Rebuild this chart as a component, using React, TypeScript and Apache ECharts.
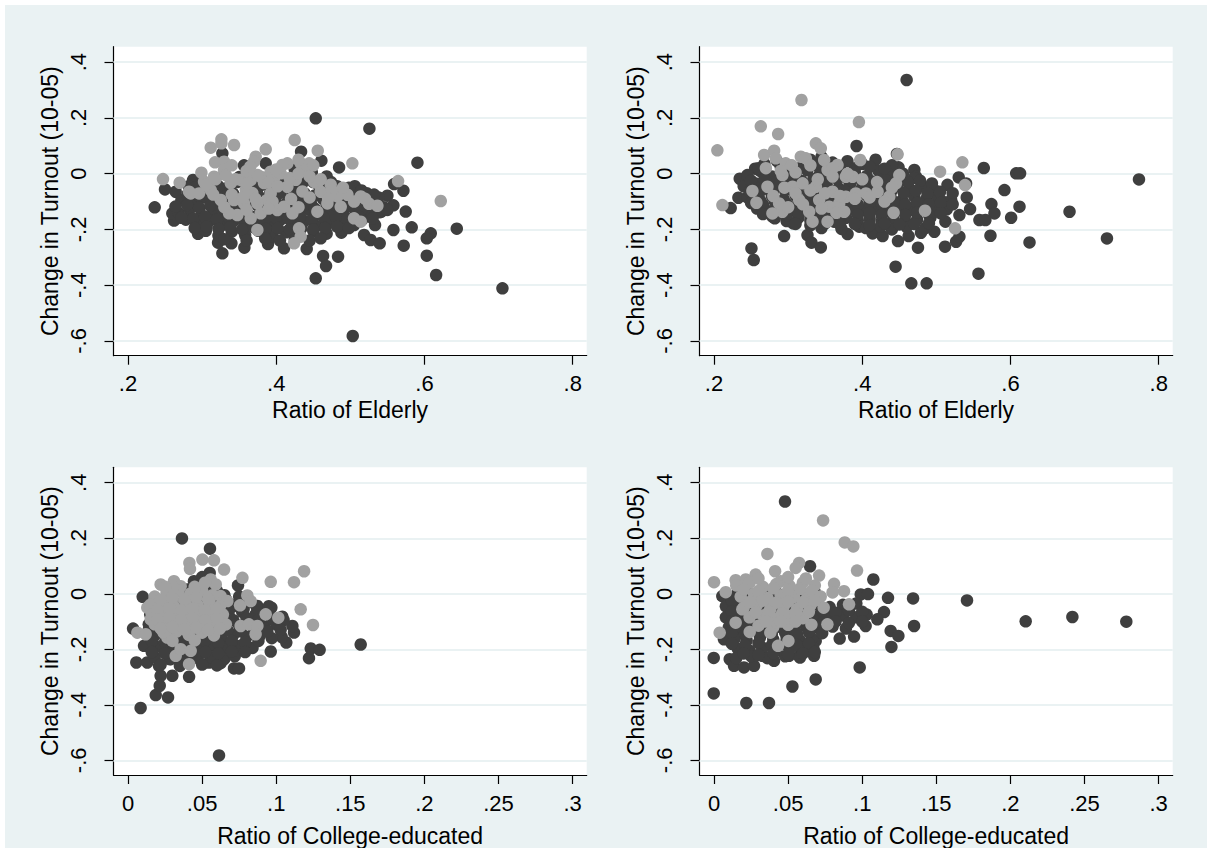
import React, { useEffect, useRef } from 'react';
import * as echarts from 'echarts';

// ---------- tick values and titles ----------
const elderlyTicks = [0.2, 0.4, 0.6, 0.8];
const collegeTicks = [0, 0.05, 0.1, 0.15, 0.2, 0.25, 0.3];
const turnoutTicks = [-0.6, -0.4, -0.2, 0, 0.2, 0.4];
const elderlyTitle = 'Ratio of Elderly';
const collegeTitle = 'Ratio of College-educated';
const turnoutTitle = 'Change in Turnout (10-05)';

// ---------- panel 1: elderly vs turnout (left column) ----------
const p1Dark: number[][] = [
  [0.4533, 0.1986], [0.5257, 0.1616], [0.5905, 0.0396], [0.4848, 0.0226], [0.4335, 0.079], [0.4609, 0.0468],
  [0.3273, 0.0731], [0.236, -0.1207], [0.2621, -0.168], [0.2945, -0.2157], [0.3273, -0.2857], [0.3215, -0.2474],
  [0.3395, -0.2498], [0.357, -0.2653], [0.3889, -0.2522], [0.4105, -0.2677], [0.4411, -0.2701], [0.4632, -0.2952],
  [0.4834, -0.2976], [0.4672, -0.3311], [0.4533, -0.3754], [0.5032, -0.5822], [0.4879, -0.2115], [0.5185, -0.2199],
  [0.5275, -0.2379], [0.5396, -0.2498], [0.5333, -0.1841], [0.5419, -0.136], [0.5581, -0.2019], [0.572, -0.2581],
  [0.5828, -0.1924], [0.5747, -0.136], [0.5581, -0.1135], [0.55, -0.0788], [0.559, -0.0372], [0.5716, -0.0611],
  [0.6085, -0.2139], [0.6031, -0.2318], [0.6436, -0.1972], [0.6031, -0.294], [0.6157, -0.3634], [0.7052, -0.4112],
  [0.2499, -0.0563], [0.2643, -0.0647], [0.2598, -0.1424], [0.2877, -0.0226], [0.3565, 0.03], [0.3858, 0.0372],
  [0.505, -0.1841], [0.4996, -0.0525], [0.5239, -0.0946],
  [0.282, -0.045], [0.298, -0.062], [0.312, -0.038], [0.33, -0.055], [0.347, -0.03], [0.362, -0.06], [0.38, -0.04],
  [0.397, -0.058], [0.413, -0.025], [0.428, -0.05], [0.443, -0.015], [0.458, -0.045], [0.474, -0.03], [0.49, -0.06],
  [0.506, -0.045], [0.522, -0.07], [0.538, -0.085],
  [0.272, -0.095], [0.288, -0.105], [0.303, -0.085], [0.318, -0.11], [0.334, -0.092], [0.35, -0.105], [0.366, -0.088],
  [0.383, -0.11], [0.399, -0.09], [0.415, -0.102], [0.431, -0.085], [0.447, -0.108], [0.463, -0.09], [0.479, -0.105],
  [0.495, -0.095], [0.511, -0.11], [0.527, -0.1], [0.545, -0.12],
  [0.268, -0.14], [0.283, -0.128], [0.299, -0.148], [0.315, -0.132], [0.331, -0.15], [0.347, -0.135], [0.363, -0.148],
  [0.379, -0.13], [0.395, -0.145], [0.411, -0.135], [0.427, -0.15], [0.443, -0.128], [0.459, -0.145], [0.475, -0.135],
  [0.491, -0.15], [0.507, -0.13], [0.523, -0.145], [0.54, -0.138],
  [0.278, -0.165], [0.294, -0.182], [0.31, -0.168], [0.326, -0.185], [0.342, -0.17], [0.358, -0.188], [0.374, -0.172],
  [0.39, -0.185], [0.406, -0.165], [0.422, -0.18], [0.438, -0.17], [0.454, -0.188], [0.47, -0.175], [0.486, -0.168],
  [0.502, -0.18], [0.516, -0.165],
  [0.305, -0.205], [0.322, -0.222], [0.34, -0.208], [0.358, -0.22], [0.376, -0.205], [0.395, -0.225], [0.413, -0.21],
  [0.432, -0.222], [0.45, -0.205], [0.468, -0.215], [0.488, -0.2],
  [0.405, -0.005], [0.425, 0.015], [0.448, 0.005], [0.468, -0.01], [0.435, -0.035], [0.385, -0.015], [0.35, -0.012],
  [0.318, -0.015], [0.3, -0.025],
  [0.28, -0.075], [0.296, -0.08], [0.311, -0.07], [0.326, -0.078], [0.342, -0.072], [0.358, -0.082], [0.374, -0.07],
  [0.39, -0.078], [0.406, -0.068], [0.422, -0.08], [0.438, -0.07], [0.452, -0.078], [0.468, -0.065], [0.484, -0.08],
  [0.5, -0.07], [0.516, -0.085], [0.532, -0.075],
  [0.264, -0.118], [0.28, -0.112], [0.296, -0.122], [0.311, -0.115], [0.326, -0.125], [0.342, -0.118], [0.358, -0.122],
  [0.374, -0.112], [0.39, -0.125], [0.406, -0.118], [0.422, -0.12], [0.438, -0.112], [0.452, -0.125], [0.468, -0.115],
  [0.484, -0.122], [0.5, -0.118], [0.516, -0.125], [0.532, -0.12], [0.55, -0.13],
  [0.272, -0.158], [0.288, -0.162], [0.304, -0.155], [0.32, -0.165], [0.336, -0.158], [0.352, -0.162], [0.368, -0.155],
  [0.384, -0.165], [0.4, -0.158], [0.416, -0.16], [0.432, -0.155], [0.448, -0.165], [0.464, -0.158], [0.48, -0.155],
  [0.496, -0.162], [0.512, -0.155], [0.53, -0.16],
  [0.29, -0.195], [0.306, -0.19], [0.322, -0.198], [0.338, -0.192], [0.354, -0.2], [0.37, -0.192], [0.386, -0.198],
  [0.402, -0.195], [0.418, -0.2], [0.434, -0.195], [0.45, -0.2], [0.466, -0.195], [0.482, -0.19], [0.498, -0.195],
  [0.33, -0.235], [0.36, -0.24], [0.385, -0.232], [0.405, -0.24], [0.425, -0.235], [0.445, -0.24], [0.46, -0.232],
  [0.29, -0.05], [0.322, -0.045], [0.338, -0.04], [0.372, -0.048], [0.39, -0.045], [0.42, -0.04], [0.45, -0.03],
  [0.482, -0.045], [0.498, -0.05], [0.515, -0.06],
];
const p1Light: number[][] = [
  [0.2472, -0.0192], [0.2697, -0.0324], [0.3116, 0.0934], [0.326, 0.1232], [0.326, 0.1089], [0.3431, 0.1029],
  [0.3858, 0.0874], [0.4249, 0.1208], [0.456, 0.0826], [0.5027, 0.0372], [0.5644, -0.0264], [0.622, -0.098],
  [0.3723, 0.061], [0.37, 0.0432], [0.3174, 0.0408], [0.3296, 0.0432], [0.299, 0.0037], [0.2846, -0.0707],
  [0.3026, -0.0288], [0.3161, -0.0109], [0.3296, 0.0133], [0.3386, -0.0336], [0.3521, -0.0216], [0.3588, -0.0575],
  [0.3678, -0.0695], [0.3835, -0.0336], [0.397, -0.0157], [0.406, 0.0013], [0.415, 0.0372], [0.433, 0.0372],
  [0.4443, 0.0372], [0.4375, 0.0133], [0.4263, -0.0216], [0.4353, -0.0635], [0.4555, -0.0336], [0.4735, -0.0396],
  [0.4825, -0.0815], [0.496, -0.0755], [0.514, -0.0815], [0.5252, -0.1078], [0.5365, -0.115], [0.505, -0.1601],
  [0.514, -0.172], [0.4555, -0.1362], [0.4218, -0.1422], [0.4015, -0.1302], [0.4105, -0.1183], [0.388, -0.0943],
  [0.379, -0.1422], [0.3655, -0.1601], [0.3475, -0.1482], [0.3363, -0.1422], [0.3251, -0.0943], [0.3116, -0.0587],
  [0.3745, -0.2019], [0.4308, -0.196], [0.433, -0.2259], [0.424, -0.2498], [0.469, -0.1066], [0.487, -0.1186],
  [0.46, -0.0647], [0.3925, -0.0707], [0.3745, -0.1066], [0.3565, -0.1066], [0.343, -0.0946], [0.2958, -0.0707],
  [0.2823, -0.0647], [0.451, -0.0288], [0.415, -0.0468], [0.379, -0.0109], [0.3655, -0.0228], [0.4082, 0.0312],
  [0.3925, 0.0073],
  [0.305, -0.04], [0.318, -0.02], [0.332, -0.005], [0.345, -0.02], [0.36, -0.035], [0.375, -0.005], [0.39, -0.03],
  [0.402, -0.045], [0.418, -0.015], [0.43, 0.0], [0.445, -0.01], [0.46, -0.02], [0.475, -0.06], [0.49, -0.05],
  [0.505, -0.1], [0.52, -0.09], [0.34, -0.075], [0.355, -0.085], [0.372, -0.09], [0.395, -0.1], [0.42, -0.09],
  [0.445, -0.085], [0.47, -0.09], [0.43, -0.12], [0.39, -0.125], [0.36, -0.13], [0.33, -0.12], [0.315, -0.075],
  [0.36, 0.01], [0.4, 0.015], [0.34, 0.03], [0.365, 0.025], [0.43, 0.05], [0.45, 0.03],
];

// ---------- panel 2: elderly vs turnout (right column) ----------
const p2Dark: number[][] = [
  [0.4599, 0.3362], [0.3923, 0.0994], [0.564, 0.0204], [0.6077, 0.0013], [0.613, 0.0013], [0.7734, -0.0205],
  [0.6797, -0.1364], [0.7302, -0.2321], [0.6257, -0.2465], [0.5568, -0.3587], [0.4662, -0.3934], [0.4869, -0.3934],
  [0.445, -0.3336], [0.2505, -0.268], [0.2536, -0.3097], [0.2946, -0.2237], [0.2225, -0.1232], [0.2347, -0.018],
  [0.2329, -0.0862], [0.2554, 0.018], [0.5919, -0.0587], [0.6122, -0.1184], [0.6009, -0.1579], [0.5743, -0.1089],
  [0.5784, -0.1424], [0.573, -0.2225], [0.5581, -0.1662], [0.5662, -0.1662], [0.5302, -0.0133], [0.5401, -0.0348],
  [0.541, -0.085], [0.5455, -0.1268], [0.5311, -0.1483], [0.5122, -0.1722], [0.4973, -0.2082], [0.4793, -0.2117],
  [0.4752, -0.2655], [0.5117, -0.2619], [0.5266, -0.244], [0.5311, -0.2261], [0.4626, -0.2237], [0.4482, -0.2416],
  [0.4468, 0.0707], [0.449, 0.0228], [0.4703, 0.0133], [0.4725, -0.0108], [0.4995, -0.0623], [0.5086, -0.1005],
  [0.4995, -0.1184], [0.3261, -0.2201], [0.3315, -0.2475], [0.3441, -0.2643], [0.3802, -0.2165], [0.3959, -0.19],
  [0.414, -0.2141], [0.4275, -0.2237], [0.3068, -0.1782], [0.2788, -0.1542],
  [0.268, 0.035], [0.285, 0.045], [0.3, 0.03], [0.33, 0.05], [0.345, 0.06], [0.36, 0.04], [0.38, 0.045], [0.4, 0.035],
  [0.418, 0.05], [0.44, 0.03],
  [0.245, -0.005], [0.262, 0.01], [0.278, -0.01], [0.294, 0.005], [0.31, -0.008], [0.326, 0.012], [0.342, -0.005],
  [0.358, 0.008], [0.374, -0.01], [0.39, 0.005], [0.406, -0.008], [0.422, 0.01], [0.438, -0.005], [0.455, 0.0],
  [0.47, -0.015],
  [0.24, -0.045], [0.256, -0.035], [0.272, -0.05], [0.288, -0.04], [0.304, -0.055], [0.32, -0.038], [0.336, -0.05],
  [0.352, -0.04], [0.368, -0.052], [0.384, -0.035], [0.4, -0.048], [0.416, -0.038], [0.432, -0.05], [0.448, -0.04],
  [0.464, -0.055], [0.48, -0.045], [0.496, -0.06], [0.515, -0.04],
  [0.245, -0.085], [0.262, -0.095], [0.278, -0.08], [0.294, -0.092], [0.31, -0.078], [0.326, -0.09], [0.342, -0.082],
  [0.358, -0.095], [0.374, -0.08], [0.39, -0.09], [0.406, -0.078], [0.422, -0.092], [0.438, -0.082], [0.454, -0.095],
  [0.47, -0.08], [0.486, -0.092], [0.502, -0.085], [0.52, -0.095],
  [0.258, -0.125], [0.274, -0.135], [0.29, -0.12], [0.306, -0.132], [0.322, -0.118], [0.338, -0.13], [0.354, -0.122],
  [0.37, -0.135], [0.386, -0.12], [0.402, -0.13], [0.418, -0.125], [0.434, -0.135], [0.45, -0.12], [0.466, -0.13],
  [0.482, -0.125], [0.498, -0.135], [0.514, -0.128],
  [0.282, -0.16], [0.298, -0.17], [0.314, -0.158], [0.33, -0.168], [0.346, -0.16], [0.362, -0.172], [0.378, -0.158],
  [0.394, -0.168], [0.41, -0.162], [0.426, -0.172], [0.442, -0.16], [0.458, -0.17], [0.474, -0.165], [0.492, -0.158],
  [0.345, -0.195], [0.372, -0.198], [0.405, -0.195], [0.425, -0.19], [0.44, -0.2], [0.46, -0.192], [0.485, -0.195],
  [0.25, -0.025], [0.268, -0.02], [0.285, -0.028], [0.302, -0.018], [0.318, -0.025], [0.334, -0.02], [0.35, -0.028],
  [0.366, -0.018], [0.382, -0.025], [0.398, -0.02], [0.414, -0.028], [0.43, -0.02], [0.446, -0.025], [0.462, -0.03],
  [0.478, -0.025], [0.494, -0.035],
  [0.248, -0.065], [0.264, -0.06], [0.28, -0.068], [0.296, -0.06], [0.312, -0.065], [0.328, -0.07], [0.344, -0.062],
  [0.36, -0.068], [0.376, -0.06], [0.392, -0.068], [0.408, -0.062], [0.424, -0.07], [0.44, -0.06], [0.456, -0.068],
  [0.472, -0.062], [0.488, -0.07], [0.505, -0.065], [0.522, -0.07],
  [0.25, -0.105], [0.266, -0.11], [0.282, -0.1], [0.298, -0.108], [0.314, -0.1], [0.33, -0.11], [0.346, -0.102],
  [0.362, -0.108], [0.378, -0.1], [0.394, -0.11], [0.41, -0.102], [0.426, -0.108], [0.442, -0.1], [0.458, -0.11],
  [0.474, -0.105], [0.49, -0.11], [0.506, -0.105], [0.522, -0.11],
  [0.266, -0.145], [0.282, -0.14], [0.298, -0.148], [0.314, -0.142], [0.33, -0.148], [0.346, -0.14], [0.362, -0.148],
  [0.378, -0.142], [0.394, -0.148], [0.41, -0.14], [0.426, -0.148], [0.442, -0.142], [0.458, -0.148], [0.474, -0.14],
  [0.49, -0.148], [0.506, -0.142],
  [0.31, -0.18], [0.33, -0.185], [0.35, -0.178], [0.37, -0.182], [0.39, -0.18], [0.41, -0.185], [0.43, -0.178],
  [0.45, -0.182], [0.47, -0.18], [0.49, -0.178],
  [0.26, 0.02], [0.29, 0.025], [0.315, 0.02], [0.34, 0.028], [0.37, 0.022], [0.39, 0.02], [0.41, 0.025], [0.43, 0.018],
];
const p2Light: number[][] = [
  [0.2045, 0.0838], [0.2113, -0.1125], [0.2631, 0.1699], [0.2865, 0.1424], [0.318, 0.2643], [0.3955, 0.1854],
  [0.3374, 0.1089], [0.3441, 0.091], [0.4477, 0.0695], [0.505, 0.0073], [0.5351, 0.0408], [0.5387, -0.0407],
  [0.4847, -0.1327], [0.5252, -0.196], [0.4423, -0.14], [0.2518, -0.062], [0.2572, -0.1041], [0.2676, 0.0671],
  [0.2811, 0.0826], [0.2833, 0.055], [0.2968, 0.0372], [0.3171, 0.061], [0.3239, 0.055], [0.3486, 0.0491],
  [0.3667, 0.0312], [0.3869, -0.0109], [0.3973, 0.0491], [0.45, -0.0048], [0.4455, -0.0347], [0.4365, -0.0826],
  [0.4207, -0.0647], [0.405, -0.0707], [0.3914, -0.0707], [0.3779, -0.0826], [0.3689, -0.1066], [0.3757, -0.1364],
  [0.3532, -0.1722], [0.3329, -0.1722], [0.3284, -0.1364], [0.3149, -0.0946], [0.2923, -0.1364], [0.2788, -0.1424],
  [0.2878, -0.1066], [0.2721, -0.0467], [0.2923, -0.0048], [0.3059, -0.0467], [0.3194, -0.0347], [0.3374, -0.0467],
  [0.3532, 0.0133], [0.3599, -0.0647], [0.3779, -0.0109], [0.3419, -0.0946], [0.3554, -0.1184],
  [0.27, 0.02], [0.29, 0.01], [0.305, 0.03], [0.33, 0.03], [0.36, 0.02], [0.38, 0.0], [0.4, -0.02], [0.42, -0.03],
  [0.44, -0.05], [0.43, -0.1], [0.41, -0.085], [0.39, -0.09], [0.37, -0.08], [0.35, -0.07], [0.33, -0.06],
  [0.31, -0.07], [0.295, -0.05], [0.28, -0.08], [0.3, -0.12], [0.32, -0.11], [0.345, -0.125], [0.365, -0.14],
  [0.34, -0.02], [0.36, -0.01], [0.31, 0.005],
];

// ---------- panel 3: college-educated vs turnout (left column) ----------
const p3Dark: number[][] = [
  [0.0364, 0.1995], [0.0553, 0.1624], [0.0551, 0.0752], [0.0742, 0.0298], [0.0099, -0.0109], [0.0034, -0.1255],
  [0.157, -0.1829], [0.0085, -0.4115], [0.0614, -0.5824], [0.0187, -0.3651], [0.027, -0.3735], [0.0214, -0.3313],
  [0.022, -0.2954], [0.0299, -0.2954], [0.0412, -0.299], [0.0056, -0.2475], [0.013, -0.2475], [0.0108, -0.1877],
  [0.0209, -0.2595], [0.0715, -0.269], [0.0749, -0.269], [0.1221, -0.232], [0.1233, -0.1972], [0.1293, -0.2021],
  [0.112, -0.1398], [0.1109, -0.116], [0.1068, -0.1757], [0.0963, -0.2081], [0.1037, -0.1557], [0.0967, -0.0502],
  [0.1041, -0.0825], [0.0873, -0.0442], [0.0546, -0.2475], [0.0625, -0.25], [0.0288, -0.2356], [0.0445, 0.0453],
  [0.035, 0.025], [0.045, 0.035], [0.052, 0.02], [0.06, 0.01], [0.05, 0.06], [0.04, 0.015],
  [0.02, -0.03], [0.03, -0.02], [0.04, -0.035], [0.05, -0.025], [0.058, -0.03], [0.066, -0.02], [0.074, -0.035],
  [0.082, -0.03],
  [0.015, -0.075], [0.024, -0.065], [0.033, -0.078], [0.042, -0.068], [0.051, -0.08], [0.06, -0.07], [0.068, -0.078],
  [0.077, -0.065], [0.086, -0.075], [0.095, -0.07],
  [0.014, -0.11], [0.022, -0.118], [0.031, -0.105], [0.04, -0.115], [0.049, -0.108], [0.058, -0.12], [0.066, -0.11],
  [0.075, -0.115], [0.084, -0.105], [0.092, -0.118], [0.1, -0.11],
  [0.018, -0.15], [0.027, -0.16], [0.036, -0.148], [0.045, -0.158], [0.054, -0.15], [0.063, -0.16], [0.071, -0.148],
  [0.08, -0.155], [0.089, -0.15], [0.097, -0.16],
  [0.02, -0.19], [0.03, -0.198], [0.039, -0.188], [0.048, -0.195], [0.057, -0.185], [0.066, -0.195], [0.075, -0.188],
  [0.084, -0.195],
  [0.018, -0.228], [0.028, -0.235], [0.037, -0.225], [0.047, -0.232], [0.056, -0.228], [0.065, -0.235], [0.072, -0.225],
  [0.018, -0.05], [0.027, -0.055], [0.036, -0.048], [0.045, -0.055], [0.054, -0.05], [0.062, -0.055], [0.07, -0.048],
  [0.078, -0.055], [0.087, -0.05], [0.095, -0.045],
  [0.018, -0.092], [0.027, -0.088], [0.036, -0.095], [0.045, -0.09], [0.054, -0.095], [0.062, -0.088], [0.071, -0.095],
  [0.08, -0.088], [0.088, -0.095], [0.097, -0.09], [0.105, -0.095],
  [0.014, -0.13], [0.023, -0.135], [0.032, -0.128], [0.041, -0.135], [0.05, -0.13], [0.059, -0.138], [0.067, -0.13],
  [0.076, -0.135], [0.085, -0.13], [0.094, -0.135], [0.103, -0.13],
  [0.016, -0.17], [0.025, -0.175], [0.034, -0.168], [0.043, -0.175], [0.052, -0.17], [0.061, -0.178], [0.07, -0.17],
  [0.079, -0.175], [0.088, -0.17],
  [0.016, -0.21], [0.025, -0.215], [0.034, -0.208], [0.043, -0.215], [0.052, -0.21], [0.061, -0.215], [0.07, -0.208],
  [0.079, -0.21],
  [0.022, -0.255], [0.035, -0.26], [0.05, -0.255], [0.06, -0.258],
  [0.045, -0.01], [0.055, 0.0], [0.065, -0.005], [0.075, -0.01],
];
const p3Light: number[][] = [
  [0.0414, 0.111], [0.0418, 0.0896], [0.0502, 0.123], [0.058, 0.1206], [0.0648, 0.0872], [0.0772, 0.0573],
  [0.0963, 0.0429], [0.112, 0.0417], [0.1188, 0.0812], [0.1165, -0.0562], [0.1248, -0.1124], [0.0895, -0.2415],
  [0.022, 0.0334], [0.031, 0.0453], [0.0355, 0.0274], [0.0558, 0.0513], [0.0592, 0.0334], [0.0625, -0.0084],
  [0.067, -0.0263], [0.0756, -0.0418], [0.0805, -0.0061], [0.0828, -0.0263], [0.0929, -0.0741], [0.1014, -0.0861],
  [0.076, -0.116], [0.0816, -0.11], [0.0873, -0.116], [0.0861, -0.1458], [0.0648, -0.11], [0.0322, -0.2236],
  [0.0412, -0.2535], [0.0355, -0.1997], [0.0423, -0.2057], [0.0265, -0.158], [0.013, -0.0502], [0.0063, -0.14],
  [0.0119, -0.1458], [0.0153, -0.0921],
  [0.018, -0.01], [0.026, 0.005], [0.034, 0.01], [0.042, 0.0], [0.05, 0.012], [0.057, -0.005],
  [0.015, -0.04], [0.023, -0.03], [0.031, -0.045], [0.039, -0.035], [0.047, -0.042], [0.055, -0.03], [0.062, -0.045],
  [0.016, -0.075], [0.024, -0.068], [0.032, -0.08], [0.04, -0.07], [0.048, -0.078], [0.056, -0.065], [0.064, -0.075],
  [0.018, -0.11], [0.026, -0.1], [0.034, -0.112], [0.042, -0.105], [0.05, -0.115], [0.058, -0.1], [0.066, -0.11],
  [0.024, -0.14], [0.033, -0.135], [0.041, -0.148], [0.05, -0.14], [0.058, -0.15], [0.03, -0.17], [0.045, -0.168],
  [0.022, -0.022], [0.03, -0.015], [0.038, -0.02], [0.046, -0.015], [0.054, -0.02], [0.02, -0.058], [0.028, -0.052],
  [0.036, -0.06], [0.044, -0.055], [0.052, -0.06], [0.06, -0.055], [0.02, -0.092], [0.028, -0.088], [0.036, -0.095],
  [0.044, -0.088], [0.052, -0.095], [0.06, -0.09], [0.022, -0.125], [0.03, -0.12], [0.038, -0.128], [0.046, -0.122],
  [0.054, -0.13], [0.062, -0.125], [0.03, 0.02], [0.045, 0.025], [0.025, 0.025], [0.052, 0.04],
];

// ---------- panel 4: college-educated vs turnout (right column) ----------
const p4Dark: number[][] = [
  [0.0479, 0.3323], [0.0648, 0.0991], [0.1075, 0.0513], [0.1174, -0.0145], [0.1343, -0.0168], [0.135, -0.1161],
  [0.1707, -0.024], [0.2103, -0.0992], [0.2418, -0.0836], [0.2782, -0.1004], [0.1192, -0.134], [0.1244, -0.1519],
  [0.1197, -0.1914], [0.0983, -0.2654], [0.0686, -0.3085], [0.0529, -0.334], [0.0218, -0.3934], [0.0371, -0.3934],
  [-0.0002, -0.359], [-0.0002, -0.2311], [0.0106, -0.2359], [0.0135, -0.2594], [0.0202, -0.2654], [0.027, -0.2594],
  [0.0405, -0.2415], [0.0067, -0.1638], [0.0056, -0.0084], [0.0945, -0.1543], [0.0848, -0.1614], [0.1023, -0.1161],
  [0.1147, -0.066], [0.1102, -0.0921], [0.099, -0.0024], [0.1039, -0.0012], [0.0675, -0.2236], [0.0574, -0.2236],
  [0.0506, -0.2236], [0.0326, -0.2236], [0.0686, -0.1698],
  [0.008, -0.005], [0.016, 0.005], [0.025, -0.002], [0.034, 0.008], [0.043, 0.0], [0.052, 0.01], [0.06, -0.005],
  [0.068, 0.005],
  [0.008, -0.045], [0.016, -0.035], [0.025, -0.048], [0.034, -0.04], [0.043, -0.05], [0.052, -0.035], [0.06, -0.045],
  [0.069, -0.038], [0.078, -0.048], [0.087, -0.04], [0.096, -0.035],
  [0.008, -0.085], [0.016, -0.078], [0.025, -0.09], [0.034, -0.08], [0.043, -0.088], [0.052, -0.078], [0.06, -0.09],
  [0.069, -0.082], [0.078, -0.088], [0.087, -0.078], [0.096, -0.085], [0.103, -0.075],
  [0.01, -0.12], [0.018, -0.128], [0.027, -0.118], [0.036, -0.13], [0.045, -0.12], [0.054, -0.128], [0.062, -0.118],
  [0.071, -0.125], [0.08, -0.118], [0.089, -0.125],
  [0.014, -0.16], [0.022, -0.168], [0.031, -0.158], [0.04, -0.165], [0.049, -0.158], [0.058, -0.168], [0.066, -0.16],
  [0.016, -0.198], [0.024, -0.205], [0.033, -0.195], [0.042, -0.205], [0.051, -0.198], [0.06, -0.205], [0.067, -0.195],
  [0.015, -0.232], [0.025, -0.225], [0.036, -0.232], [0.048, -0.225], [0.058, -0.23],
  [0.012, -0.025], [0.021, -0.02], [0.03, -0.028], [0.039, -0.02], [0.048, -0.028], [0.056, -0.02], [0.064, -0.025],
  [0.012, -0.065], [0.021, -0.06], [0.03, -0.068], [0.039, -0.06], [0.048, -0.068], [0.056, -0.06], [0.064, -0.068],
  [0.073, -0.062], [0.082, -0.068], [0.091, -0.06], [0.1, -0.065],
  [0.012, -0.1], [0.021, -0.105], [0.03, -0.098], [0.039, -0.105], [0.048, -0.1], [0.056, -0.105], [0.064, -0.098],
  [0.073, -0.105], [0.082, -0.1], [0.091, -0.105], [0.1, -0.1],
  [0.012, -0.14], [0.021, -0.145], [0.03, -0.138], [0.039, -0.145], [0.048, -0.14], [0.056, -0.145], [0.064, -0.138],
  [0.073, -0.142],
  [0.012, -0.18], [0.021, -0.185], [0.03, -0.178], [0.039, -0.185], [0.048, -0.18], [0.056, -0.185], [0.064, -0.18],
  [0.02, -0.215], [0.03, -0.22], [0.04, -0.215], [0.05, -0.22], [0.06, -0.215], [0.068, -0.21],
];
const p4Light: number[][] = [
  [0.0, 0.0418], [0.0038, -0.14], [0.036, 0.1434], [0.0736, 0.2643], [0.0882, 0.185], [0.094, 0.1706],
  [0.0965, 0.0836], [0.0574, 0.111], [0.0551, 0.0931], [0.0709, 0.0656], [0.0412, 0.0812], [0.0281, 0.0692],
  [0.0146, 0.0489], [0.0214, 0.0513], [0.045, 0.0453], [0.081, 0.0358], [0.0877, 0.0095], [0.0911, -0.0382],
  [0.0765, -0.11], [0.0657, -0.1112], [0.0146, -0.104], [0.0191, -0.0561], [0.0241, -0.1376], [0.0432, -0.1877],
  [0.0502, -0.1698], [0.0079, 0.0059],
  [0.015, 0.03], [0.024, 0.04], [0.033, 0.025], [0.042, 0.035], [0.051, 0.028], [0.06, 0.04], [0.068, 0.03],
  [0.018, -0.01], [0.027, 0.0], [0.036, -0.015], [0.045, -0.005], [0.054, -0.012], [0.063, 0.0], [0.072, -0.01],
  [0.08, 0.005],
  [0.02, -0.05], [0.029, -0.04], [0.038, -0.055], [0.047, -0.045], [0.056, -0.055], [0.065, -0.042], [0.074, -0.05],
  [0.024, -0.085], [0.033, -0.078], [0.042, -0.09], [0.051, -0.08], [0.06, -0.088],
  [0.03, -0.115], [0.04, -0.12], [0.05, -0.112],
  [0.02, 0.015], [0.03, 0.01], [0.04, 0.02], [0.05, 0.012], [0.058, 0.018], [0.066, 0.01], [0.024, -0.03],
  [0.033, -0.025], [0.042, -0.032], [0.05, -0.028], [0.06, -0.03], [0.068, -0.025], [0.028, -0.068], [0.037, -0.065],
  [0.046, -0.07], [0.055, -0.068], [0.064, -0.065], [0.035, -0.1], [0.045, -0.1], [0.055, -0.1], [0.038, -0.14],
  [0.03, 0.055], [0.05, 0.06], [0.062, 0.055],
];

const DARK = '#3f3f3f';
const LIGHT = '#a1a1a1';
const GRIDLINE = '#eaf2f3';
const FONT = '"Liberation Sans", Arial, Helvetica, sans-serif';

const fmtTick = (v: number) => {
  const r = Math.round(v * 1000) / 1000;
  if (r === 0) return '0';
  return String(r).replace('0.', '.');
};

export default function App() {
  const ref = useRef<HTMLDivElement>(null);

  useEffect(() => {
    if (!ref.current) return;
    const chart = echarts.init(ref.current, null, { renderer: 'svg' });

    const panels = [
      { left: 108.5, top: 41.7, xmin: 0.1804, xmax: 0.8189, ticks: elderlyTicks, title: elderlyTitle, gap: 44, dark: p1Dark, light: p1Light },
      { left: 694.5, top: 41.7, xmin: 0.1804, xmax: 0.8189, ticks: elderlyTicks, title: elderlyTitle, gap: 44, dark: p2Dark, light: p2Light },
      { left: 108.5, top: 462.3, xmin: -0.0098, xmax: 0.3095, ticks: collegeTicks, title: collegeTitle, gap: 50, dark: p3Dark, light: p3Light },
      { left: 694.5, top: 462.3, xmin: -0.0098, xmax: 0.3095, ticks: collegeTicks, title: collegeTitle, gap: 50, dark: p4Dark, light: p4Light },
    ];
    const W = 473.2;
    const H = 309;
    const textBase = { color: '#000', fontSize: 22, fontFamily: FONT };

    const option: any = {
      animation: false,
      backgroundColor: '#eaf2f3',
      grid: panels.map((p) => ({
        left: p.left, top: p.top, width: W, height: H,
        show: true, backgroundColor: '#ffffff', borderWidth: 0,
      })),
      xAxis: panels.map((p, i) => ({
        type: 'value', gridIndex: i, min: p.xmin, max: p.xmax,
        axisLine: { show: true, onZero: false, lineStyle: { color: '#000', width: 1.2 } },
        axisTick: { show: true, length: 9, customValues: p.ticks, lineStyle: { color: '#000', width: 1.2 } },
        axisLabel: { show: true, customValues: p.ticks, formatter: fmtTick, margin: 17, ...textBase },
        splitLine: { show: false },
        name: p.title, nameLocation: 'middle', nameGap: p.gap - 1,
        nameTextStyle: { ...textBase, fontSize: 23 },
      })),
      yAxis: panels.map((p, i) => ({
        type: 'value', gridIndex: i, min: -0.6529, max: 0.4556,
        axisLine: { show: true, onZero: false, lineStyle: { color: '#000', width: 1.2 } },
        axisTick: { show: true, length: 9, customValues: turnoutTicks, lineStyle: { color: '#000', width: 1.2 } },
        axisLabel: { show: true, customValues: turnoutTicks, formatter: fmtTick, rotate: 90, margin: 24, ...textBase },
        splitLine: { show: false },
        name: turnoutTitle, nameLocation: 'middle', nameGap: 52, nameRotate: 90,
        nameTextStyle: { ...textBase, fontSize: 23 },
      })),
      series: panels.flatMap((p, i) => [
        {
          type: 'scatter', xAxisIndex: i, yAxisIndex: i, data: [], z: 1, silent: true,
          markLine: {
            silent: true, symbol: 'none', z: 1, animation: false,
            label: { show: false },
            lineStyle: { color: GRIDLINE, width: 2, type: 'solid' },
            emphasis: { disabled: true },
            data: turnoutTicks.map((v) => ({ yAxis: v })),
          },
        },
        {
          type: 'scatter', xAxisIndex: i, yAxisIndex: i, data: p.dark, z: 3,
          symbol: 'circle', symbolSize: 12.5, itemStyle: { color: DARK, opacity: 1 },
        },
        {
          type: 'scatter', xAxisIndex: i, yAxisIndex: i, data: p.light, z: 4,
          symbol: 'circle', symbolSize: 12.5, itemStyle: { color: LIGHT, opacity: 1 },
        },
      ]),
    };

    chart.setOption(option);
    return () => chart.dispose();
  }, []);

  return (
    <div style={{ position: 'absolute', left: 0, top: 0, width: 1212, height: 848, background: '#ffffff', overflow: 'hidden' }}>
      <div ref={ref} style={{ position: 'absolute', left: 5, top: 5, width: 1202, height: 843 }} />
    </div>
  );
}
